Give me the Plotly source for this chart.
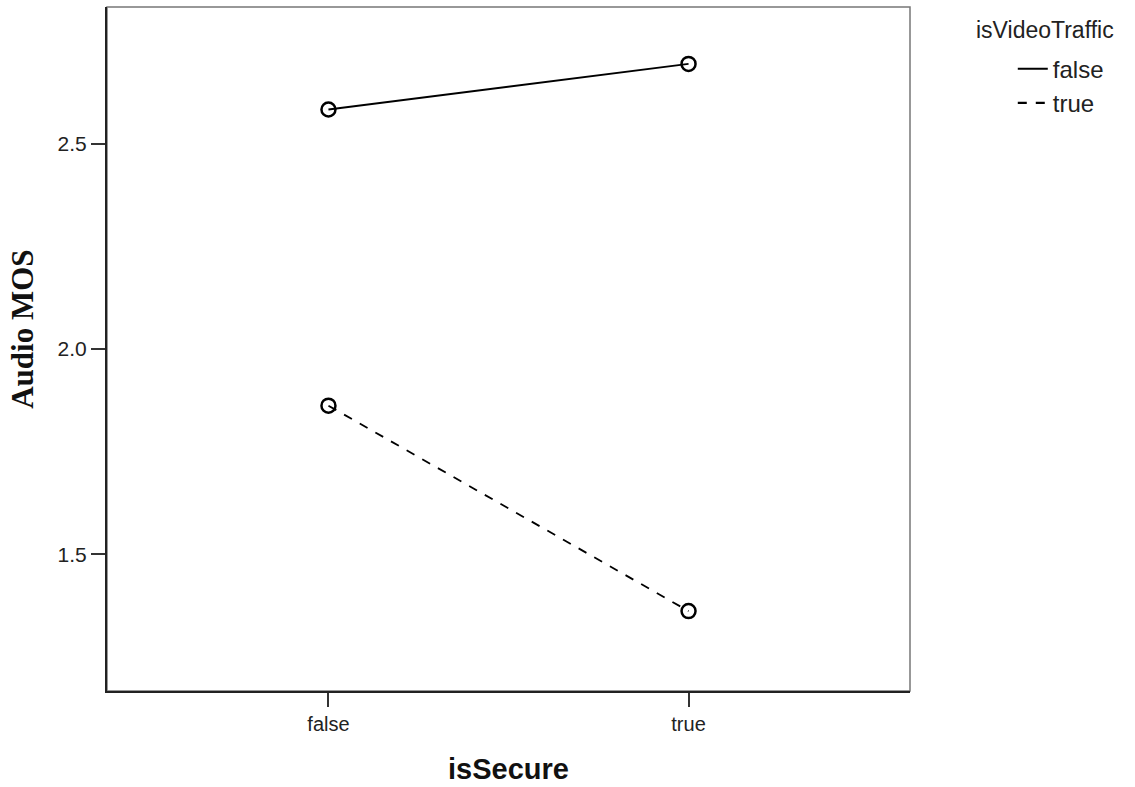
import plotly.graph_objects as go

categories = ["false", "true"]
series_names = ["false", "true"]
mos_video_false = [2.583, 2.694]
mos_video_true = [1.862, 1.362]
y_ticks = [1.5, 2.0, 2.5]

fig = go.Figure()
for name, vals, dash in [(series_names[0], mos_video_false, "solid"),
                         (series_names[1], mos_video_true, "dash")]:
    fig.add_trace(go.Scatter(
        x=[0, 1], y=vals, mode="lines+markers", name=name, showlegend=False,
        line=dict(color="black", width=1.8, dash=dash),
        marker=dict(symbol="circle-open", size=14, color="black", line=dict(width=2.5)),
    ))
    # legend-only entry: line without marker, as in the reference legend
    fig.add_trace(go.Scatter(
        x=[None], y=[None], mode="lines", name=name,
        line=dict(color="black", width=2.2, dash=dash),
    ))

sans = "Liberation Sans, Arial"
fig.update_layout(
    width=1135, height=787,
    margin=dict(l=107, r=225, t=7, b=94),
    plot_bgcolor="white", paper_bgcolor="white",
    showlegend=True,
    legend=dict(
        x=1.128, xanchor="left", y=0.942, yanchor="top",
        font=dict(family=sans, size=24, color="#222"),
        itemwidth=30, tracegroupgap=0,
        bgcolor="rgba(0,0,0,0)",
    ),
    xaxis=dict(
        range=[-0.615, 1.615],
        tickmode="array", tickvals=[0, 1], ticktext=categories,
        ticks="outside", ticklen=14, tickwidth=2, tickcolor="#333",
        showline=True, linecolor="#222", linewidth=2,
        showgrid=False, zeroline=False,
        tickfont=dict(family=sans, size=20, color="#222"),
        title=dict(text="<b>isSecure</b>", font=dict(family=sans, size=29, color="#111"), standoff=25),
    ),
    yaxis=dict(
        range=[1.1675, 2.8325],
        tickmode="array", tickvals=y_ticks, ticktext=[f"{v:.1f}" for v in y_ticks],
        ticks="outside", ticklen=14, tickwidth=2, tickcolor="#333",
        showline=True, linecolor="#222", linewidth=2,
        showgrid=False, zeroline=False,
        tickfont=dict(family=sans, size=21, color="#222"),
    ),
    shapes=[dict(type="rect", xref="paper", yref="paper", x0=0, x1=1, y0=0, y1=1,
                 line=dict(color="#777", width=1.5), layer="below")],
    annotations=[
        dict(text="<b>Audio MOS</b>", xref="paper", yref="paper", x=-0.1046, y=0.528,
             xanchor="center", yanchor="middle", textangle=-90, showarrow=False,
             font=dict(family="Liberation Serif, Times New Roman", size=31, color="#111")),
        dict(text="isVideoTraffic", xref="paper", yref="paper", x=1.08, y=0.988,
             xanchor="left", yanchor="top", showarrow=False,
             font=dict(family=sans, size=23, color="#222")),
    ],
)

fig.write_html("out.html")
